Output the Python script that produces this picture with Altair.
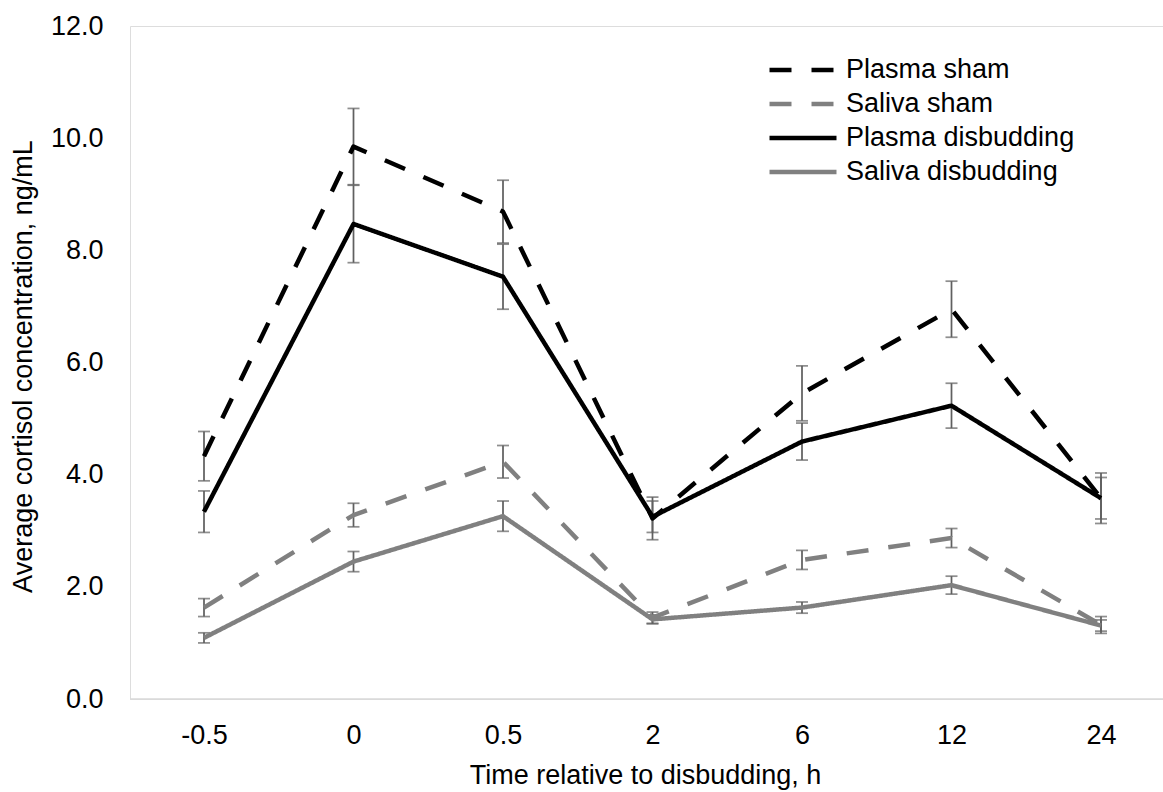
import altair as alt
import pandas as pd

times = ["-0.5", "0", "0.5", "2", "6", "12", "24"]
series_names = ["Plasma sham", "Saliva sham", "Plasma disbudding", "Saliva disbudding"]

plasma_sham = [4.33, 9.85, 8.69, 3.22, 5.45, 6.95, 3.58]
plasma_sham_err = [0.44, 0.68, 0.56, 0.38, 0.49, 0.50, 0.45]
saliva_sham = [1.63, 3.28, 4.23, 1.45, 2.48, 2.87, 1.32]
saliva_sham_err = [0.16, 0.21, 0.29, 0.10, 0.17, 0.17, 0.15]
plasma_disb = [3.34, 8.47, 7.53, 3.25, 4.59, 5.23, 3.58]
plasma_disb_err = [0.37, 0.69, 0.58, 0.28, 0.33, 0.40, 0.37]
saliva_disb = [1.09, 2.45, 3.26, 1.42, 1.63, 2.03, 1.31]
saliva_disb_err = [0.09, 0.18, 0.27, 0.08, 0.10, 0.16, 0.10]

series_colors = ["#000000", "#808080", "#000000", "#808080"]
series_dashes = [[22, 20], [22, 20], [1, 0], [1, 0]]

rows = []
for name, vals, errs in zip(
    series_names,
    [plasma_sham, saliva_sham, plasma_disb, saliva_disb],
    [plasma_sham_err, saliva_sham_err, plasma_disb_err, saliva_disb_err],
):
    for t, v, e in zip(times, vals, errs):
        rows.append({"time": t, "series": name, "value": v, "lo": v - e, "hi": v + e})
df = pd.DataFrame(rows)

FONT = "Liberation Sans"
FS = 27

x_axis = alt.Axis(
    title="Time relative to disbudding, h",
    labelAngle=0, ticks=False, domain=False, grid=False,
    domainColor="transparent", gridColor="transparent", tickColor="transparent",
    labelFontSize=FS, labelPadding=44, labelBaseline="alphabetic", labelColor="#000000",
    titleFontSize=FS, titleFontWeight="normal", titleColor="#000000",
    titleX=515, titleY=84, titleBaseline="alphabetic", titleAlign="center",
)
x_scale = alt.Scale(type="point", range=[74, 971], padding=0)
x_enc = alt.X("time:N", sort=times, scale=x_scale, axis=x_axis)

y_scale = alt.Scale(domain=[0, 12], nice=False, zero=True)
y_axis = alt.Axis(
    title="Average cortisol concentration, ng/mL",
    values=[0, 2, 4, 6, 8, 10, 12], format=".1f",
    ticks=False, domain=False, grid=False,
    domainColor="transparent", gridColor="transparent", tickColor="transparent",
    labelFontSize=FS, labelPadding=27, labelBaseline="middle", labelColor="#000000",
    titleFontSize=FS, titleFontWeight="normal", titleColor="#000000",
    titleAngle=-90, titleX=-107, titleY=340, titleBaseline="middle", titleAlign="center",
)

base = alt.Chart(df)

baseline = alt.Chart(pd.DataFrame({"v": [0]})).mark_rule(color="#d9d9d9", strokeWidth=1.5).encode(
    y=alt.Y("v:Q", scale=y_scale, axis=y_axis),
)

err_rule = base.mark_rule(color="#606060", strokeWidth=1.75).encode(
    x=x_enc,
    y=alt.Y("lo:Q", scale=y_scale, axis=y_axis),
    y2="hi:Q",
)
cap_lo = base.mark_tick(color="#606060", thickness=1.75, size=12).encode(
    x=x_enc, y=alt.Y("lo:Q", scale=y_scale, axis=y_axis)
)
cap_hi = base.mark_tick(color="#606060", thickness=1.75, size=12).encode(
    x=x_enc, y=alt.Y("hi:Q", scale=y_scale, axis=y_axis)
)

legend = alt.Legend(
    title=None, orient="none", legendX=637, legendY=27,
    symbolType="stroke", symbolSize=4489, symbolStrokeWidth=4.5,
    labelFontSize=FS, labelColor="#000000", labelOffset=7, rowPadding=0,
    clipHeight=34, labelLimit=500,
)

lines = base.mark_line(strokeWidth=4.5, strokeJoin="round").encode(
    x=x_enc,
    y=alt.Y("value:Q", scale=y_scale, axis=y_axis),
    color=alt.Color("series:N", sort=series_names,
                    scale=alt.Scale(domain=series_names, range=series_colors), legend=legend),
    strokeDash=alt.StrokeDash("series:N", sort=series_names,
                              scale=alt.Scale(domain=series_names, range=series_dashes), legend=legend),
    detail="series:N",
)

chart = alt.layer(baseline, err_rule, cap_lo, cap_hi, lines).properties(
    width=1033, height=673,
    padding={"left": 130, "top": 26, "right": 0, "bottom": 93},
    autosize=alt.AutoSizeParams(type="none"),
    background="#ffffff",
).configure_view(stroke="transparent", strokeWidth=0).configure_axis(
    domain=False, grid=False, domainColor="transparent", gridColor="transparent"
).configure(font=FONT)

chart.save("out.html", embed_options={"renderer": "svg", "actions": False})
